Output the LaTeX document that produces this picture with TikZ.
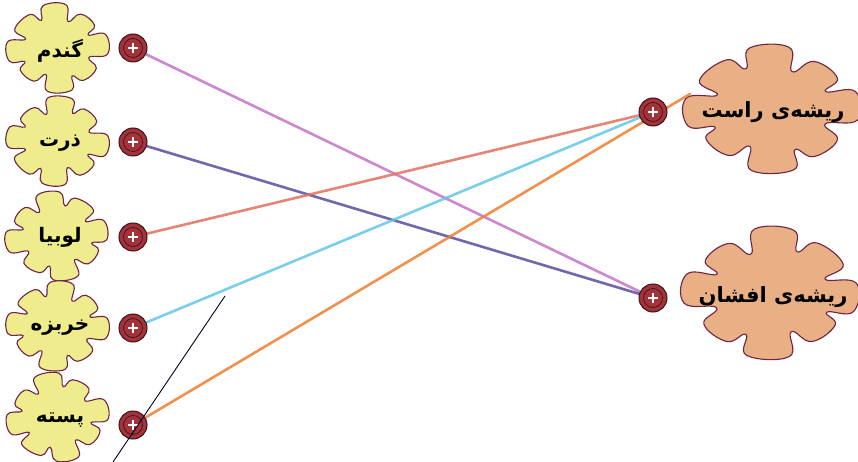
\documentclass[tikz,border=0pt]{standalone}
\usepackage{fontspec}
\newfontfamily\fa[Script=Arabic]{DejaVu Sans}
\TeXXeTstate=1
\pgfdeclarelayer{bg}
\pgfdeclarelayer{lines}
\pgfsetlayers{bg,lines,main}
\definecolor{lblob}{HTML}{EFEC8E}
\definecolor{rblob}{HTML}{E8B084}
\definecolor{blobline}{HTML}{6E2448}
\definecolor{btnred}{HTML}{A3323A}
\definecolor{btndark}{HTML}{3A1518}
\definecolor{cpurple}{HTML}{C472C8}
\definecolor{cnavy}{HTML}{5A4C9E}
\definecolor{csalmon}{HTML}{E2705E}
\definecolor{cblue}{HTML}{62C6E6}
\definecolor{corange}{HTML}{EF7E2E}
\tikzset{
  splat/.pic={\path[pic actions] plot[smooth cycle,tension=0.75] coordinates
    {(-13:1) (13:1) (24:0.66)
     (36:0.9) (60:0.9) (70:0.7)
     (78:1) (106:1) (115:0.64)
     (126:0.88) (150:0.88) (159:0.7)
     (167:0.98) (193:0.98) (203:0.65)
     (212:0.93) (240:0.93) (249:0.7)
     (259:1) (285:1) (295:0.64)
     (306:0.9) (330:0.9) (339:0.68)};}
}
\begin{document}
\begin{tikzpicture}[x=1pt,y=-1pt,
  lsplat/.style={fill=lblob,draw=blobline,line width=1.1pt},
  rsplat/.style={fill=rblob,draw=blobline,line width=1.1pt},
  lbl/.style={font=\fa\bfseries\fontsize{20}{24}\selectfont,inner sep=0pt},
  rlbl/.style={font=\fa\bfseries\fontsize{21}{25}\selectfont,inner sep=0pt},
  btn/.style={circle,minimum size=28pt,inner sep=0pt,fill=btnred,draw=btndark,line width=1pt,
    path picture={
      \draw[btndark,line width=0.7pt] (path picture bounding box.center) circle (9.5pt);
      \draw[white,line width=2.4pt] ([xshift=-5pt]path picture bounding box.center) -- ([xshift=5pt]path picture bounding box.center)
        ([yshift=-5pt]path picture bounding box.center) -- ([yshift=5pt]path picture bounding box.center);}},
  pencil/.style={line width=2.6pt,line cap=round,opacity=0.85}]
\useasboundingbox (0,0) rectangle (858,462);
% blobs
\begin{pgfonlayer}{bg}
\fill[white] (0,0) rectangle (858,462);
\pic[lsplat,xscale=51,yscale=44,rotate=5] at (57,48) {splat};
\pic[lsplat,xscale=51,yscale=44,rotate=-6,yscale=-1] at (57,141) {splat};
\pic[lsplat,xscale=51,yscale=44,rotate=8,xscale=-1] at (57,236) {splat};
\pic[lsplat,xscale=51,yscale=44,rotate=-3] at (57,326) {splat};
\pic[lsplat,xscale=51,yscale=44,rotate=10,yscale=-1] at (57,417) {splat};
\pic[rsplat,xscale=88,yscale=63,rotate=3] at (771,109) {splat};
\pic[rsplat,xscale=88,yscale=65,rotate=-4,xscale=-1] at (771,293) {splat};
\end{pgfonlayer}
% labels
\node[lbl] (t1) at (60,51) {\beginR گندم\endR};
\node[lbl] (t2) at (60,143) {\beginR ذرت\endR};
\node[lbl] (t3) at (60,237) {\beginR لوبیا\endR};
\node[lbl] (t4) at (60,328) {\beginR خربزه\endR};
\node[lbl] (t5) at (60,420) {\beginR پسته\endR};
\node[rlbl] (r1) at (773,112) {\beginR ریشه‌ی راست\endR};
\node[rlbl] (r2) at (773,297) {\beginR ریشه‌ی افشان\endR};
% buttons
\node[btn] (b1) at (133,48) {};
\node[btn] (b2) at (133,142) {};
\node[btn] (b3) at (133,237) {};
\node[btn] (b4) at (133,328) {};
\node[btn] (b5) at (133,425) {};
\node[btn] (a1) at (653,112) {};
\node[btn] (a2) at (653,298) {};
\coordinate (oend) at (690,94);
\coordinate (s1) at (113,462);
\coordinate (s2) at (225,296);
% connectors
\begin{pgfonlayer}{lines}
\draw[pencil,cpurple] (b1.center) -- (a2.center);
\draw[pencil,cnavy] (b2.center) -- (a2.center);
\draw[pencil,csalmon] (b3.center) -- (a1.center);
\draw[pencil,cblue] (b4.center) -- (a1.center);
\draw[pencil,corange] (b5.center) -- (oend);
\end{pgfonlayer}
\draw[line width=0.9pt,color=black!85!blue] (s1) -- (s2);
\end{tikzpicture}
\end{document}
